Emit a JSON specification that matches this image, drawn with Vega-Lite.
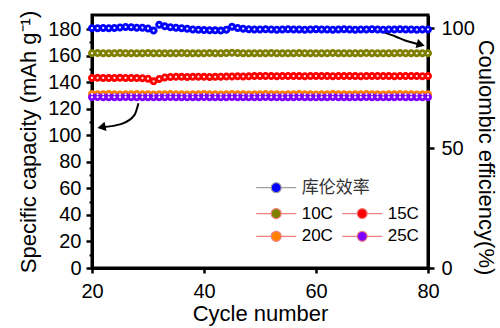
{
  "$schema": "https://vega.github.io/schema/vega-lite/v6.json",
  "autosize": "none",
  "width": 336,
  "height": 253,
  "padding": {"left": 92, "top": 15, "right": 72, "bottom": 60},
  "background": "white",
  "datasets": {
    "cap": [
      {"c":20,"s":"10C","v":161.8},{"c":21,"s":"10C","v":161.9},{"c":22,"s":"10C","v":161.8},{"c":23,"s":"10C","v":161.7},{"c":24,"s":"10C","v":161.8},{"c":25,"s":"10C","v":161.9},{"c":26,"s":"10C","v":161.8},{"c":27,"s":"10C","v":161.8},{"c":28,"s":"10C","v":161.7},{"c":29,"s":"10C","v":161.8},
      {"c":30,"s":"10C","v":161.9},{"c":31,"s":"10C","v":161.8},{"c":32,"s":"10C","v":161.8},{"c":33,"s":"10C","v":161.7},{"c":34,"s":"10C","v":161.8},{"c":35,"s":"10C","v":161.8},{"c":36,"s":"10C","v":161.9},{"c":37,"s":"10C","v":161.8},{"c":38,"s":"10C","v":161.7},{"c":39,"s":"10C","v":161.8},
      {"c":40,"s":"10C","v":161.8},{"c":41,"s":"10C","v":161.9},{"c":42,"s":"10C","v":161.8},{"c":43,"s":"10C","v":161.8},{"c":44,"s":"10C","v":161.9},{"c":45,"s":"10C","v":162.1},{"c":46,"s":"10C","v":161.9},{"c":47,"s":"10C","v":161.8},{"c":48,"s":"10C","v":161.7},{"c":49,"s":"10C","v":161.8},
      {"c":50,"s":"10C","v":161.8},{"c":51,"s":"10C","v":161.8},{"c":52,"s":"10C","v":161.9},{"c":53,"s":"10C","v":161.8},{"c":54,"s":"10C","v":161.7},{"c":55,"s":"10C","v":161.8},{"c":56,"s":"10C","v":161.8},{"c":57,"s":"10C","v":161.9},{"c":58,"s":"10C","v":161.8},{"c":59,"s":"10C","v":161.8},
      {"c":60,"s":"10C","v":161.7},{"c":61,"s":"10C","v":161.8},{"c":62,"s":"10C","v":161.8},{"c":63,"s":"10C","v":161.9},{"c":64,"s":"10C","v":161.8},{"c":65,"s":"10C","v":161.8},{"c":66,"s":"10C","v":161.7},{"c":67,"s":"10C","v":161.8},{"c":68,"s":"10C","v":161.8},{"c":69,"s":"10C","v":161.9},
      {"c":70,"s":"10C","v":161.8},{"c":71,"s":"10C","v":161.8},{"c":72,"s":"10C","v":161.7},{"c":73,"s":"10C","v":161.8},{"c":74,"s":"10C","v":161.8},{"c":75,"s":"10C","v":161.9},{"c":76,"s":"10C","v":161.8},{"c":77,"s":"10C","v":161.8},{"c":78,"s":"10C","v":161.7},{"c":79,"s":"10C","v":161.8},{"c":80,"s":"10C","v":161.8},

      {"c":20,"s":"15C","v":143.2},{"c":21,"s":"15C","v":143.3},{"c":22,"s":"15C","v":143.2},{"c":23,"s":"15C","v":143.1},{"c":24,"s":"15C","v":143.2},{"c":25,"s":"15C","v":143.3},{"c":26,"s":"15C","v":143.2},{"c":27,"s":"15C","v":143.2},{"c":28,"s":"15C","v":143.1},{"c":29,"s":"15C","v":143.0},
      {"c":30,"s":"15C","v":142.6},{"c":31,"s":"15C","v":140.6},{"c":32,"s":"15C","v":142.4},{"c":33,"s":"15C","v":143.6},{"c":34,"s":"15C","v":143.9},{"c":35,"s":"15C","v":144.0},{"c":36,"s":"15C","v":144.0},{"c":37,"s":"15C","v":143.9},{"c":38,"s":"15C","v":144.0},{"c":39,"s":"15C","v":144.1},
      {"c":40,"s":"15C","v":144.0},{"c":41,"s":"15C","v":143.9},{"c":42,"s":"15C","v":144.0},{"c":43,"s":"15C","v":144.1},{"c":44,"s":"15C","v":144.2},{"c":45,"s":"15C","v":144.3},{"c":46,"s":"15C","v":144.4},{"c":47,"s":"15C","v":144.3},{"c":48,"s":"15C","v":144.4},{"c":49,"s":"15C","v":144.6},
      {"c":50,"s":"15C","v":144.6},{"c":51,"s":"15C","v":144.7},{"c":52,"s":"15C","v":144.6},{"c":53,"s":"15C","v":144.5},{"c":54,"s":"15C","v":144.6},{"c":55,"s":"15C","v":144.7},{"c":56,"s":"15C","v":144.6},{"c":57,"s":"15C","v":144.6},{"c":58,"s":"15C","v":144.5},{"c":59,"s":"15C","v":144.6},
      {"c":60,"s":"15C","v":144.7},{"c":61,"s":"15C","v":144.6},{"c":62,"s":"15C","v":144.6},{"c":63,"s":"15C","v":144.5},{"c":64,"s":"15C","v":144.6},{"c":65,"s":"15C","v":144.6},{"c":66,"s":"15C","v":144.7},{"c":67,"s":"15C","v":144.6},{"c":68,"s":"15C","v":144.5},{"c":69,"s":"15C","v":144.6},
      {"c":70,"s":"15C","v":144.6},{"c":71,"s":"15C","v":144.7},{"c":72,"s":"15C","v":144.6},{"c":73,"s":"15C","v":144.6},{"c":74,"s":"15C","v":144.5},{"c":75,"s":"15C","v":144.6},{"c":76,"s":"15C","v":144.6},{"c":77,"s":"15C","v":144.7},{"c":78,"s":"15C","v":144.6},{"c":79,"s":"15C","v":144.5},{"c":80,"s":"15C","v":144.6},

      {"c":20,"s":"20C","v":131.0},{"c":21,"s":"20C","v":130.9},{"c":22,"s":"20C","v":130.9},{"c":23,"s":"20C","v":131.0},{"c":24,"s":"20C","v":130.9},{"c":25,"s":"20C","v":130.8},{"c":26,"s":"20C","v":130.9},{"c":27,"s":"20C","v":130.9},{"c":28,"s":"20C","v":131.0},{"c":29,"s":"20C","v":130.9},
      {"c":30,"s":"20C","v":130.9},{"c":31,"s":"20C","v":130.8},{"c":32,"s":"20C","v":130.9},{"c":33,"s":"20C","v":130.9},{"c":34,"s":"20C","v":131.0},{"c":35,"s":"20C","v":130.9},{"c":36,"s":"20C","v":130.9},{"c":37,"s":"20C","v":130.8},{"c":38,"s":"20C","v":130.9},{"c":39,"s":"20C","v":130.9},
      {"c":40,"s":"20C","v":131.0},{"c":41,"s":"20C","v":130.9},{"c":42,"s":"20C","v":130.9},{"c":43,"s":"20C","v":130.8},{"c":44,"s":"20C","v":130.9},{"c":45,"s":"20C","v":131.0},{"c":46,"s":"20C","v":130.9},{"c":47,"s":"20C","v":130.9},{"c":48,"s":"20C","v":130.8},{"c":49,"s":"20C","v":130.9},
      {"c":50,"s":"20C","v":130.9},{"c":51,"s":"20C","v":131.0},{"c":52,"s":"20C","v":130.9},{"c":53,"s":"20C","v":130.9},{"c":54,"s":"20C","v":130.8},{"c":55,"s":"20C","v":130.9},{"c":56,"s":"20C","v":130.9},{"c":57,"s":"20C","v":131.0},{"c":58,"s":"20C","v":130.9},{"c":59,"s":"20C","v":130.9},
      {"c":60,"s":"20C","v":130.8},{"c":61,"s":"20C","v":130.9},{"c":62,"s":"20C","v":130.9},{"c":63,"s":"20C","v":131.0},{"c":64,"s":"20C","v":130.9},{"c":65,"s":"20C","v":130.9},{"c":66,"s":"20C","v":130.8},{"c":67,"s":"20C","v":130.9},{"c":68,"s":"20C","v":130.9},{"c":69,"s":"20C","v":131.0},
      {"c":70,"s":"20C","v":130.9},{"c":71,"s":"20C","v":130.9},{"c":72,"s":"20C","v":130.8},{"c":73,"s":"20C","v":130.9},{"c":74,"s":"20C","v":130.9},{"c":75,"s":"20C","v":131.0},{"c":76,"s":"20C","v":130.9},{"c":77,"s":"20C","v":130.9},{"c":78,"s":"20C","v":130.8},{"c":79,"s":"20C","v":130.9},{"c":80,"s":"20C","v":130.9},

      {"c":20,"s":"25C","v":128.7},{"c":21,"s":"25C","v":128.8},{"c":22,"s":"25C","v":128.7},{"c":23,"s":"25C","v":128.6},{"c":24,"s":"25C","v":128.7},{"c":25,"s":"25C","v":128.7},{"c":26,"s":"25C","v":128.8},{"c":27,"s":"25C","v":128.7},{"c":28,"s":"25C","v":128.6},{"c":29,"s":"25C","v":128.7},
      {"c":30,"s":"25C","v":128.7},{"c":31,"s":"25C","v":128.6},{"c":32,"s":"25C","v":128.7},{"c":33,"s":"25C","v":128.7},{"c":34,"s":"25C","v":128.8},{"c":35,"s":"25C","v":128.7},{"c":36,"s":"25C","v":128.7},{"c":37,"s":"25C","v":128.6},{"c":38,"s":"25C","v":128.7},{"c":39,"s":"25C","v":128.7},
      {"c":40,"s":"25C","v":128.8},{"c":41,"s":"25C","v":128.7},{"c":42,"s":"25C","v":128.7},{"c":43,"s":"25C","v":128.6},{"c":44,"s":"25C","v":128.7},{"c":45,"s":"25C","v":128.8},{"c":46,"s":"25C","v":128.7},{"c":47,"s":"25C","v":128.7},{"c":48,"s":"25C","v":128.6},{"c":49,"s":"25C","v":128.7},
      {"c":50,"s":"25C","v":128.7},{"c":51,"s":"25C","v":128.8},{"c":52,"s":"25C","v":128.7},{"c":53,"s":"25C","v":128.7},{"c":54,"s":"25C","v":128.6},{"c":55,"s":"25C","v":128.7},{"c":56,"s":"25C","v":128.7},{"c":57,"s":"25C","v":128.8},{"c":58,"s":"25C","v":128.7},{"c":59,"s":"25C","v":128.7},
      {"c":60,"s":"25C","v":128.6},{"c":61,"s":"25C","v":128.7},{"c":62,"s":"25C","v":128.7},{"c":63,"s":"25C","v":128.8},{"c":64,"s":"25C","v":128.7},{"c":65,"s":"25C","v":128.7},{"c":66,"s":"25C","v":128.6},{"c":67,"s":"25C","v":128.7},{"c":68,"s":"25C","v":128.7},{"c":69,"s":"25C","v":128.8},
      {"c":70,"s":"25C","v":128.7},{"c":71,"s":"25C","v":128.7},{"c":72,"s":"25C","v":128.6},{"c":73,"s":"25C","v":128.7},{"c":74,"s":"25C","v":128.7},{"c":75,"s":"25C","v":128.8},{"c":76,"s":"25C","v":128.7},{"c":77,"s":"25C","v":128.7},{"c":78,"s":"25C","v":128.6},{"c":79,"s":"25C","v":128.7},{"c":80,"s":"25C","v":128.7}
    ],
    "ce": [
      {"c":20,"s":"库伦效率","v":100.0},{"c":21,"s":"库伦效率","v":100.0},{"c":22,"s":"库伦效率","v":100.1},{"c":23,"s":"库伦效率","v":100.0},{"c":24,"s":"库伦效率","v":100.1},{"c":25,"s":"库伦效率","v":100.3},{"c":26,"s":"库伦效率","v":100.5},{"c":27,"s":"库伦效率","v":100.4},{"c":28,"s":"库伦效率","v":100.2},{"c":29,"s":"库伦效率","v":100.2},
      {"c":30,"s":"库伦效率","v":99.9},{"c":31,"s":"库伦效率","v":99.0},{"c":32,"s":"库伦效率","v":101.4},{"c":33,"s":"库伦效率","v":100.8},{"c":34,"s":"库伦效率","v":100.4},{"c":35,"s":"库伦效率","v":100.2},{"c":36,"s":"库伦效率","v":100.0},{"c":37,"s":"库伦效率","v":99.8},{"c":38,"s":"库伦效率","v":99.5},{"c":39,"s":"库伦效率","v":99.3},
      {"c":40,"s":"库伦效率","v":99.2},{"c":41,"s":"库伦效率","v":99.1},{"c":42,"s":"库伦效率","v":99.1},{"c":43,"s":"库伦效率","v":99.0},{"c":44,"s":"库伦效率","v":99.4},{"c":45,"s":"库伦效率","v":100.6},{"c":46,"s":"库伦效率","v":100.1},{"c":47,"s":"库伦效率","v":99.8},{"c":48,"s":"库伦效率","v":99.6},{"c":49,"s":"库伦效率","v":99.5},
      {"c":50,"s":"库伦效率","v":99.5},{"c":51,"s":"库伦效率","v":99.6},{"c":52,"s":"库伦效率","v":99.5},{"c":53,"s":"库伦效率","v":99.4},{"c":54,"s":"库伦效率","v":99.5},{"c":55,"s":"库伦效率","v":99.6},{"c":56,"s":"库伦效率","v":99.5},{"c":57,"s":"库伦效率","v":99.5},{"c":58,"s":"库伦效率","v":99.4},{"c":59,"s":"库伦效率","v":99.5},
      {"c":60,"s":"库伦效率","v":99.6},{"c":61,"s":"库伦效率","v":99.5},{"c":62,"s":"库伦效率","v":99.5},{"c":63,"s":"库伦效率","v":99.4},{"c":64,"s":"库伦效率","v":99.5},{"c":65,"s":"库伦效率","v":99.6},{"c":66,"s":"库伦效率","v":99.5},{"c":67,"s":"库伦效率","v":99.4},{"c":68,"s":"库伦效率","v":99.5},{"c":69,"s":"库伦效率","v":99.5},
      {"c":70,"s":"库伦效率","v":99.6},{"c":71,"s":"库伦效率","v":99.5},{"c":72,"s":"库伦效率","v":99.4},{"c":73,"s":"库伦效率","v":99.5},{"c":74,"s":"库伦效率","v":99.5},{"c":75,"s":"库伦效率","v":99.6},{"c":76,"s":"库伦效率","v":99.5},{"c":77,"s":"库伦效率","v":99.5},{"c":78,"s":"库伦效率","v":99.4},{"c":79,"s":"库伦效率","v":99.5},{"c":80,"s":"库伦效率","v":99.5}
    ],
    "arr": [
      {"g":"r","o":1,"c":72.3,"v":177.3},{"g":"r","o":2,"c":74.2,"v":174.4},{"g":"r","o":3,"c":75.8,"v":171.6},{"g":"r","o":4,"c":78.7,"v":168.3},
      {"g":"l","o":1,"c":28.3,"v":124.2},{"g":"l","o":2,"c":27.6,"v":115.4},{"g":"l","o":3,"c":25.3,"v":108.6},{"g":"l","o":4,"c":21.7,"v":106.1}
    ],
    "heads": [
      {"g":"r","c":78.7,"v":168.3},
      {"g":"l","c":21.7,"v":106.1}
    ]
  },
  "encoding": {
    "x": {
      "field": "c",
      "type": "quantitative",
      "title": "Cycle number",
      "scale": {"domain": [20, 80], "nice": false, "zero": false},
      "axis": {"values": [20, 40, 60, 80], "tickSize": 5, "labelPadding": 8, "titlePadding": 2, "labelFlush": false, "labelOverlap": false}
    }
  },
  "layer": [
    {
      "encoding": {
        "y": {
          "field": "v",
          "type": "quantitative",
          "title": "Specific capacity (mAh g⁻¹)",
          "scale": {"domain": [0, 190.6], "nice": false, "zero": false},
          "axis": {"orient": "left", "values": [0, 20, 40, 60, 80, 100, 120, 140, 160, 180], "labelPadding": 5, "titlePadding": 7, "labelFlush": false, "labelOverlap": false}
        }
      },
      "layer": [
        {
          "data": {"name": "cap"},
          "mark": {"type": "point", "filled": true, "size": 64, "opacity": 1, "shape": "M-4,0H-1M1,0H4M1,0A1,1,0,1,1,-1,0A1,1,0,1,1,1,0Z"},
          "encoding": {
            "color": {
              "field": "s",
              "type": "nominal",
              "scale": {"domain": ["10C", "15C", "20C", "25C"], "range": ["#808000", "#ff0000", "#ff8000", "#8000ff"]},
              "legend": {
                "orient": "none",
                "legendX": 175.7,
                "legendY": 189.8,
                "columns": 2,
                "direction": "horizontal",
                "title": null,
                "padding": 0,
                "symbolSize": 100,
                "symbolType": "M-4,0H-1M1,0H4M1,0A1,1,0,1,1,-1,0A1,1,0,1,1,1,0Z",
                "symbolStrokeColor": "#f08080",
                "symbolStrokeWidth": 1.2,
                "labelOffset": 17,
                "labelFontSize": 17,
                "labelColor": "black",
                "rowPadding": 5,
                "columnPadding": 6,
                "encode": {
                  "symbols": {
                    "shape": {"value": "M-4,0H-1M1,0H4M1,0A1,1,0,1,1,-1,0A1,1,0,1,1,1,0Z"},
                    "size": {"value": 100},
                    "stroke": {"value": "#f08080"},
                    "strokeWidth": {"value": 1.2},
                    "opacity": {"value": 1}
                  }
                }
              }
            }
          }
        },
        {
          "data": {"name": "cap"},
          "mark": {"type": "point", "filled": true, "size": 5, "color": "white", "opacity": 0.95}
        },
        {
          "data": {"name": "arr"},
          "mark": {"type": "line", "color": "black", "strokeWidth": 2, "interpolate": "monotone"},
          "encoding": {
            "detail": {"field": "g", "type": "nominal"},
            "order": {"field": "o", "type": "quantitative"}
          }
        },
        {
          "data": {"name": "heads"},
          "transform": [{"filter": "datum.g === 'r'"}],
          "mark": {"type": "point", "shape": "triangle-right", "filled": true, "color": "black", "size": 90, "angle": 15, "opacity": 1}
        },
        {
          "data": {"name": "heads"},
          "transform": [{"filter": "datum.g === 'l'"}],
          "mark": {"type": "point", "shape": "triangle-left", "filled": true, "color": "black", "size": 90, "angle": 348, "opacity": 1}
        }
      ]
    },
    {
      "data": {"name": "ce"},
      "encoding": {
        "y": {
          "field": "v",
          "type": "quantitative",
          "title": "Coulombic efficiency(%)",
          "scale": {"domain": [0, 105.5], "nice": false, "zero": false},
          "axis": {"orient": "right", "values": [0, 50, 100], "labelPadding": 7, "titleX": 45, "titleY": 142, "titleAngle": 90, "titleBaseline": "bottom", "labelFlush": false, "labelOverlap": false}
        }
      },
      "layer": [
        {
          "mark": {"type": "point", "filled": true, "size": 64, "opacity": 1, "shape": "M-4,0H-1M1,0H4M1,0A1,1,0,1,1,-1,0A1,1,0,1,1,1,0Z"},
          "encoding": {
            "color": {
              "field": "s",
              "type": "nominal",
              "scale": {"domain": ["库伦效率"], "range": ["#0000ff"]},
              "legend": {
                "orient": "none",
                "legendX": 175.7,
                "legendY": 164.2,
                "title": null,
                "padding": 0,
                "symbolSize": 100,
                "symbolType": "M-4,0H-1M1,0H4M1,0A1,1,0,1,1,-1,0A1,1,0,1,1,1,0Z",
                "symbolStrokeColor": "#a0a0a0",
                "symbolStrokeWidth": 1.2,
                "labelOffset": 17,
                "labelFontSize": 17,
                "labelColor": "#333333",
                "labelFont": "Noto Sans CJK SC",
                "encode": {
                  "symbols": {
                    "shape": {"value": "M-4,0H-1M1,0H4M1,0A1,1,0,1,1,-1,0A1,1,0,1,1,1,0Z"},
                    "size": {"value": 100},
                    "stroke": {"value": "#a0a0a0"},
                    "strokeWidth": {"value": 1.2},
                    "opacity": {"value": 1}
                  }
                }
              }
            }
          }
        },
        {
          "mark": {"type": "point", "filled": true, "size": 5, "color": "white", "opacity": 0.95}
        }
      ]
    },
    {
      "data": {"name": "cap"},
      "mark": {"type": "point", "opacity": 0},
      "encoding": {
        "y": {
          "field": "v",
          "type": "quantitative",
          "title": null,
          "scale": {"domain": [0, 190.6], "nice": false, "zero": false},
          "axis": {"orient": "left", "values": [10, 30, 50, 70, 90, 110, 130, 150, 170], "labels": false, "domain": false, "tickSize": 3, "tickWidth": 2, "title": null}
        }
      }
    }
  ],
  "resolve": {"scale": {"y": "independent", "color": "independent"}, "legend": {"color": "independent"}},
  "config": {
    "font": "Liberation Sans",
    "view": {"stroke": "black", "strokeWidth": 3},
    "axis": {
      "domainColor": "black",
      "domainWidth": 3,
      "tickColor": "black",
      "tickWidth": 2.5,
      "tickSize": 6,
      "labelFontSize": 20,
      "labelColor": "black",
      "labelFont": "Liberation Sans",
      "titleFont": "Liberation Sans",
      "titleFontSize": 22,
      "titleFontWeight": "normal",
      "titleColor": "black",
      "grid": false
    },
    "legend": {"labelFont": "Liberation Sans"}
  }
}
